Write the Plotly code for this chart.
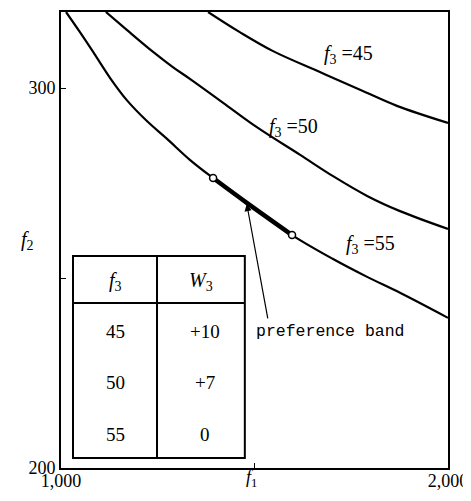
import plotly.graph_objects as go

# ---- data ----
f1_45 = [1380, 1462, 1548, 1669, 1780, 1868, 2000]
f2_45 = [320, 314.7, 309.7, 304.2, 299.2, 295.3, 290.8]

f1_50 = [1116, 1170, 1238, 1289, 1333, 1419, 1506, 1618, 1703, 1791, 1876, 2000]
f2_50 = [320, 315.3, 309.5, 305.5, 302.4, 296.1, 289.7, 282.4, 276.8, 271.6, 267.6, 262.9]

f1_55 = [1013, 1049, 1083, 1127, 1170, 1222, 1274, 1333, 1393, 1481, 1597, 1703, 1791, 1876, 2000]
f2_55 = [320, 314.7, 309.5, 302.6, 296.8, 291.3, 286.6, 281.1, 276.3, 269.7, 261.3, 255.0, 250.3, 246.1, 239.5]

band_f1 = [1393, 1481, 1597]
band_f2 = [276.3, 269.7, 261.3]

curve_labels = ["45", "50", "55"]
table_f3 = ["45", "50", "55"]
table_w3 = ["+10", "+7", "0"]

x_ticks = [1000, 1500, 2000]
x_ticktext = ["1,000", "", "2,000"]
y_ticks = [200, 250, 300]
y_ticktext = ["200", "", "300"]

SERIF = "Liberation Serif"
MONO = "Liberation Mono"

fig = go.Figure()
line = dict(color="black", width=2.2, shape="spline", smoothing=1.0)
for fx, fy in [(f1_45, f2_45), (f1_50, f2_50), (f1_55, f2_55)]:
    fig.add_trace(go.Scatter(x=fx, y=fy, mode="lines", line=line,
                             hoverinfo="skip", showlegend=False))

fig.add_trace(go.Scatter(x=band_f1, y=band_f2, mode="lines",
                         line=dict(color="black", width=4.5, shape="spline"),
                         showlegend=False, hoverinfo="skip"))
fig.add_trace(go.Scatter(x=[band_f1[0], band_f1[-1]], y=[band_f2[0], band_f2[-1]],
                         mode="markers",
                         marker=dict(symbol="circle", size=7, color="white",
                                     line=dict(color="black", width=1.5)),
                         showlegend=False, hoverinfo="skip"))

# curve labels
label_pos = [(1742, 308.7), (1602, 289.5), (1800, 258.7)]
for lab, (lx, ly) in zip(curve_labels, label_pos):
    fig.add_annotation(x=lx, y=ly, xref="x", yref="y", showarrow=False,
                       text="<i>f</i><sub>3</sub> =" + lab,
                       font=dict(family=SERIF, size=20, color="black"))

# preference band arrow & text
fig.add_annotation(x=1480, y=269.5, ax=1535, ay=239.0, xref="x", yref="y",
                   axref="x", ayref="y", showarrow=True, arrowhead=2,
                   arrowsize=1.2, arrowwidth=1.2, arrowcolor="black", text="")
fig.add_annotation(x=1697, y=235.8, xref="x", yref="y", showarrow=False,
                   text="preference band",
                   font=dict(family=MONO, size=16.5, color="black"))

# table
tx0, tx1, ty0, ty1 = 1031, 1475, 202.6, 255.8
t_head = 243.4
t_col = 1248
fig.add_shape(type="rect", x0=tx0, x1=tx1, y0=ty0, y1=ty1, xref="x", yref="y",
              line=dict(color="black", width=2), fillcolor="white", layer="above")
fig.add_shape(type="line", x0=tx0, x1=tx1, y0=t_head, y1=t_head, xref="x", yref="y",
              line=dict(color="black", width=2), layer="above")
fig.add_shape(type="line", x0=t_col, x1=t_col, y0=ty0, y1=ty1, xref="x", yref="y",
              line=dict(color="black", width=2), layer="above")

col1_x, col2_x = 1140, 1372
fig.add_annotation(x=col1_x, y=249.0, xref="x", yref="y", showarrow=False,
                   text="<i>f</i><sub>3</sub>", font=dict(family=SERIF, size=20, color="black"))
fig.add_annotation(x=1362, y=249.0, xref="x", yref="y", showarrow=False,
                   text="<i>W</i><sub>3</sub>", font=dict(family=SERIF, size=20, color="black"))
row_y = [235.8, 222.4, 208.7]
for a, b, ry in zip(table_f3, table_w3, row_y):
    fig.add_annotation(x=col1_x, y=ry, xref="x", yref="y", showarrow=False,
                       text=a, font=dict(family=SERIF, size=19, color="black"))
    fig.add_annotation(x=col2_x, y=ry, xref="x", yref="y", showarrow=False,
                       text=b, font=dict(family=SERIF, size=19, color="black"))

# axis titles
fig.add_annotation(x=-0.1085, y=0.5, xref="paper", yref="paper", showarrow=False,
                   text="<i>f</i><sub>2</sub>", font=dict(family=SERIF, size=20, color="black"))
fig.add_annotation(x=0.491, y=-0.024, xref="paper", yref="paper", showarrow=False,
                   yanchor="middle",
                   text="<i>f</i><sub>1</sub>", font=dict(family=SERIF, size=18, color="black"))

# the page body adds an 8px offset; the figure is sized to fit the window
fig.update_layout(
    width=463, height=485,
    margin=dict(l=53, r=23, t=4, b=25, autoexpand=False),
    paper_bgcolor="white", plot_bgcolor="white",
    showlegend=False,
    font=dict(family=SERIF, size=18, color="black"),
)
fig.update_xaxes(range=[1000, 2000], tickvals=x_ticks, ticktext=x_ticktext,
                 automargin=False, ticklabelstandoff=-5,
                 showgrid=False, zeroline=False, showline=True, mirror=True,
                 linecolor="black", linewidth=2, ticks="inside", ticklen=5,
                 tickcolor="black", tickfont=dict(family=SERIF, size=18))
fig.update_yaxes(range=[200, 320], tickvals=y_ticks, ticktext=y_ticktext,
                 automargin=False,
                 showgrid=False, zeroline=False, showline=True, mirror=True,
                 linecolor="black", linewidth=2, ticks="inside", ticklen=5,
                 tickcolor="black", tickfont=dict(family=SERIF, size=18))

fig.write_html("out.html")
